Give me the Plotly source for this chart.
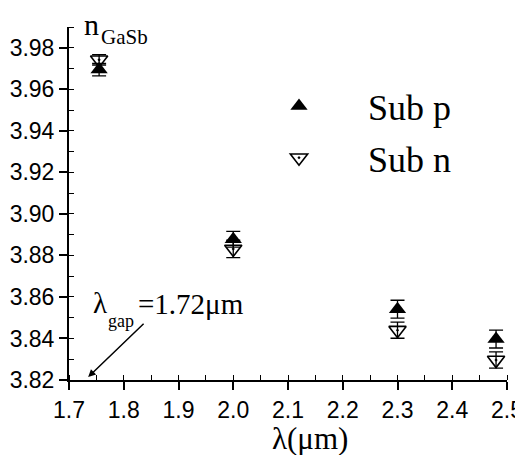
import plotly.graph_objects as go

# Data
wavelength = [1.755, 2.0, 2.3, 2.48]
sub_p = [3.9695, 3.8878, 3.8541, 3.8397]
sub_p_err = [0.003, 0.0038, 0.0043, 0.0043]
sub_n = [3.9742, 3.8831, 3.8440, 3.8296]
sub_n_err = [0.0025, 0.0042, 0.0039, 0.0039]
x_ticks = [1.7, 1.8, 1.9, 2.0, 2.1, 2.2, 2.3, 2.4, 2.5]
y_ticks = [3.82, 3.84, 3.86, 3.88, 3.90, 3.92, 3.94, 3.96, 3.98]

# the page body has an 8px margin, so the figure is shrunk and offset
OFF = 8
W, H = 523 - OFF, 455 - OFF
ML, MT = 69 - OFF, 27 - OFF
MR = W - (507 - OFF)
MB = H - (380 - OFF)
PW, PH = W - ML - MR, H - MT - MB


def px(xp):
    return (xp - OFF - ML) / PW


def py(yp):
    return (H - MB - (yp - OFF)) / PH


SERIF = "Liberation Serif"
SANS = "Liberation Sans"

fig = go.Figure()
fig.add_trace(go.Scatter(
    x=wavelength, y=sub_p, mode="markers", name="Sub p", legendgroup="p",
    marker=dict(symbol="triangle-up", size=15, color="black", line=dict(width=0)),
    error_y=dict(type="data", array=sub_p_err, visible=True, color="black", thickness=1.3, width=7),
))
fig.add_trace(go.Scatter(
    x=wavelength, y=sub_n, mode="markers", name="Sub n", legendgroup="n",
    marker=dict(symbol="triangle-down-open-dot", size=15, color="black", line=dict(width=1.6, color="black")),
    error_y=dict(type="data", array=sub_n_err, visible=True, color="black", thickness=1.3, width=7),
))

axis_common = dict(
    showline=True, linecolor="black", linewidth=2, mirror=False, automargin=False,
    showgrid=False, zeroline=False, ticks="outside", ticklen=8, tickwidth=1.5,
    tickcolor="black", tickfont=dict(family=SANS, size=23, color="black"),
)

fig.update_xaxes(range=[1.7, 2.5], tickvals=x_ticks, ticktext=[f"{v:.1f}" for v in x_ticks],
                 minor=dict(dtick=0.05, tick0=1.7, ticks="inside", ticklen=5, tickwidth=1.2, tickcolor="black"),
                 **axis_common)
fig.update_yaxes(range=[3.82, 3.99], tickvals=y_ticks, ticktext=[f"{v:.2f}" for v in y_ticks],
                 minor=dict(dtick=0.01, tick0=3.82, ticks="inside", ticklen=5, tickwidth=1.2, tickcolor="black"),
                 **axis_common)

annotations = [
    # y-axis label n_GaSb
    dict(text="n", x=px(82), y=py(25), xanchor="left", yanchor="middle",
         font=dict(family=SERIF, size=30, color="black")),
    dict(text="GaSb", x=px(99), y=py(37), xanchor="left", yanchor="middle",
         font=dict(family=SERIF, size=21, color="black")),
    # x-axis label
    dict(text="λ(μm)", x=px(310), y=py(438), xanchor="center", yanchor="middle",
         font=dict(family=SERIF, size=31, color="black")),
    # lambda gap label
    dict(text="λ", x=px(91), y=py(303), xanchor="left", yanchor="middle",
         font=dict(family=SERIF, size=29, color="black")),
    dict(text="gap", x=px(106), y=py(321), xanchor="left", yanchor="middle",
         font=dict(family=SERIF, size=18, color="black")),
    dict(text="=1.72μm", x=px(136), y=py(304), xanchor="left", yanchor="middle",
         font=dict(family=SERIF, size=29, color="black")),
]
for a in annotations:
    a.update(xref="paper", yref="paper", showarrow=False)

# arrow pointing at the band gap wavelength
annotations.append(dict(
    x=1.735, y=3.8214, ax=1.839, ay=3.8478, xref="x", yref="y", axref="x", ayref="y",
    text="", showarrow=True, arrowhead=2, arrowsize=1, arrowwidth=1.5, arrowcolor="black",
))

fig.update_layout(
    width=W, height=H,
    margin=dict(l=ML, r=MR, t=MT, b=MB),
    plot_bgcolor="white", paper_bgcolor="white",
    annotations=annotations,
    showlegend=True,
    legend=dict(
        x=px(230), y=py(76), xanchor="left", yanchor="top",
        font=dict(family=SERIF, size=36, color="black"),
        itemwidth=128, tracegroupgap=2, traceorder="grouped",
        bgcolor="rgba(0,0,0,0)", borderwidth=0,
    ),
)

fig.write_html("out.html")
